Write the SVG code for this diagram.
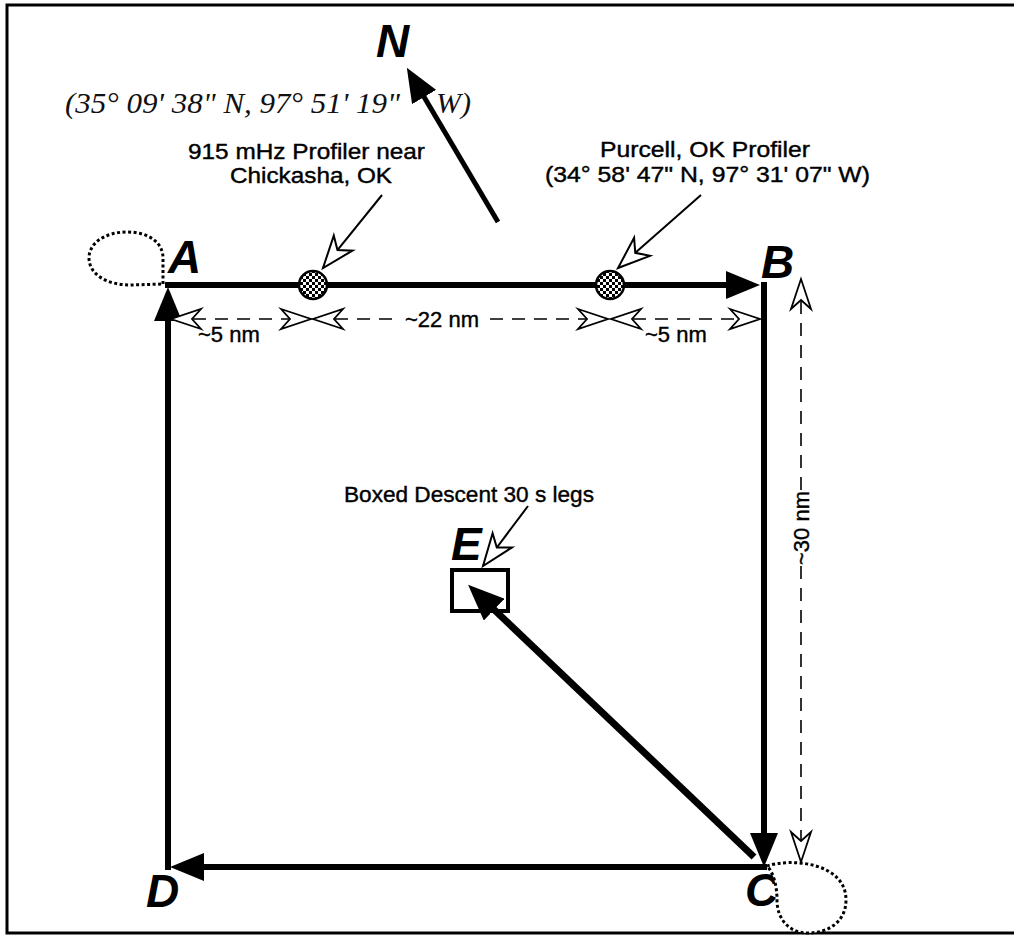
<svg xmlns="http://www.w3.org/2000/svg" width="1014" height="936" viewBox="0 0 1014 936">
<style>
.lbl{font-family:"Liberation Sans",Arial,sans-serif;font-size:22px;fill:#000;stroke:#000;stroke-width:0.4}
.dim{font-family:"Liberation Sans",Arial,sans-serif;font-size:22px;fill:#000;stroke:#000;stroke-width:0.4}
.big{font-family:"Liberation Sans",Arial,sans-serif;font-size:46px;font-weight:bold;font-style:italic;fill:#000}
.hand{font-family:"Liberation Serif","Times New Roman",serif;font-size:30px;font-style:italic;fill:#111}
.leg{stroke:#000;stroke-width:6;fill:none}
.dash{stroke:#000;stroke-width:1.6;stroke-dasharray:13 9;fill:none}
.call{stroke:#000;stroke-width:2;fill:none}
.loop{stroke:#000;stroke-width:3;stroke-dasharray:3 2.5;fill:#fff}
</style>
<defs>
<marker id="fa" viewBox="0 0 34 28" refX="14" refY="14" markerWidth="34" markerHeight="28" markerUnits="userSpaceOnUse" orient="auto">
<path d="M0,0 L34,14 L0,28 Z" fill="#000"/>
</marker>
<marker id="fb" viewBox="0 0 36 30" refX="14" refY="15" markerWidth="36" markerHeight="30" markerUnits="userSpaceOnUse" orient="auto">
<path d="M0,0 L36,15 L0,30 Z" fill="#000"/>
</marker>
<marker id="ha" viewBox="-2 -2 34 24" refX="30" refY="10" markerWidth="34" markerHeight="24" markerUnits="userSpaceOnUse" orient="auto-start-reverse" overflow="visible">
<path d="M0,0 L30,10 L0,20 L9,10 Z" fill="#fff" stroke="#000" stroke-width="1.8" stroke-linejoin="miter"/>
</marker>
<marker id="hc" viewBox="-2 -2 36 28" refX="32" refY="12" markerWidth="36" markerHeight="28" markerUnits="userSpaceOnUse" orient="auto" overflow="visible">
<path d="M0,0 L32,12 L0,24 L9,12 Z" fill="#fff" stroke="#000" stroke-width="2" stroke-linejoin="miter"/>
</marker>
<pattern id="chk" width="6" height="6" patternUnits="userSpaceOnUse">
<rect width="6" height="6" fill="#fff"/>
<rect width="3" height="3" fill="#000"/>
<rect x="3" y="3" width="3" height="3" fill="#000"/>
</pattern>
</defs>

<rect x="0" y="0" width="1014" height="936" fill="#fff"/>
<g id="frame">
<path d="M1014,5 L7,5 L7,933 L1014,933" fill="none" stroke="#000" stroke-width="3"/>
</g>

<g id="connectors">
<line class="leg" x1="165" y1="285" x2="740" y2="285" marker-end="url(#fa)"/>
<line class="leg" x1="764" y1="282" x2="764" y2="847" marker-end="url(#fa)"/>
<line class="leg" x1="767" y1="867" x2="190" y2="867" marker-end="url(#fa)"/>
<line class="leg" x1="168" y1="870" x2="168" y2="307" marker-end="url(#fa)"/>
<line stroke="#000" stroke-width="7" x1="754" y1="857" x2="484" y2="600" marker-end="url(#fb)"/>
<line stroke="#000" stroke-width="5" x1="498" y1="222" x2="417" y2="85" marker-end="url(#fa)"/>
<line class="call" x1="382" y1="195" x2="323" y2="268" marker-end="url(#hc)"/>
<line class="call" x1="701" y1="195" x2="618" y2="268" marker-end="url(#hc)"/>
<line class="call" x1="528" y1="506" x2="483" y2="566" marker-end="url(#hc)"/>
<line class="dash" x1="171" y1="319" x2="311" y2="319" marker-start="url(#ha)" marker-end="url(#ha)"/>
<line class="dash" x1="313" y1="319" x2="392" y2="319" marker-start="url(#ha)"/>
<line class="dash" x1="490" y1="319" x2="608" y2="319" marker-end="url(#ha)"/>
<line class="dash" x1="611" y1="319" x2="760" y2="319" marker-start="url(#ha)" marker-end="url(#ha)"/>
<line class="dash" x1="801" y1="279" x2="801" y2="490" marker-start="url(#ha)"/>
<line class="dash" x1="801" y1="566" x2="801" y2="862" marker-end="url(#ha)"/>
</g>

<g id="dim-labels">
<text class="dim" x="198" y="342">~5 nm</text>
<text class="dim" x="405" y="327">~22 nm</text>
<text class="dim" x="645" y="342">~5 nm</text>
<text class="dim" transform="translate(809,528) rotate(-90)" text-anchor="middle">~30 nm</text>
</g>

<g id="node-N">
<text class="big" x="376" y="57" font-size="48">N</text>
<text class="hand" x="65" y="113" textLength="335" lengthAdjust="spacingAndGlyphs">(35° 09' 38" N, 97° 51' 19"</text>
<text class="hand" x="436" y="113">W)</text>
</g>

<g id="node-A">
<path class="loop" d="M163,284 L163,258 C163,242 148,232 127,232 C105,232 89,243 89,258 C89,275 108,285 130,285 Z"/>
<text class="big" x="168" y="273">A</text>
</g>

<g id="node-B">
<text class="big" x="761" y="278">B</text>
</g>

<g id="node-C">
<text class="big" x="745" y="906">C</text>
<path class="loop" d="M767,866 C790,858 846,862 846,900 C846,922 828,933 808,933 C788,933 777,918 777,900 C777,885 773,872 767,866 Z"/>
</g>

<g id="node-D">
<text class="big" x="146" y="907">D</text>
</g>

<g id="node-E">
<rect x="452" y="570" width="56" height="41" fill="none" stroke="#000" stroke-width="4"/>
<text class="big" x="451" y="560" font-size="48">E</text>
<text class="lbl" x="344" y="502" font-size="21" textLength="250" lengthAdjust="spacingAndGlyphs">Boxed Descent 30 s legs</text>
</g>

<g id="profiler-chickasha">
<circle cx="313" cy="285" r="14" fill="url(#chk)" stroke="#000" stroke-width="2.5"/>
<text class="lbl" x="188" y="159" textLength="237" lengthAdjust="spacingAndGlyphs">915 mHz Profiler near</text>
<text class="lbl" x="230" y="183" textLength="162" lengthAdjust="spacingAndGlyphs">Chickasha, OK</text>
</g>

<g id="profiler-purcell">
<circle cx="610" cy="285" r="14" fill="url(#chk)" stroke="#000" stroke-width="2.5"/>
<text class="lbl" x="600" y="157" textLength="210" lengthAdjust="spacingAndGlyphs">Purcell, OK Profiler</text>
<text class="lbl" x="545" y="182" textLength="325" lengthAdjust="spacingAndGlyphs">(34° 58' 47" N, 97° 31' 07" W)</text>
</g>
</svg>
